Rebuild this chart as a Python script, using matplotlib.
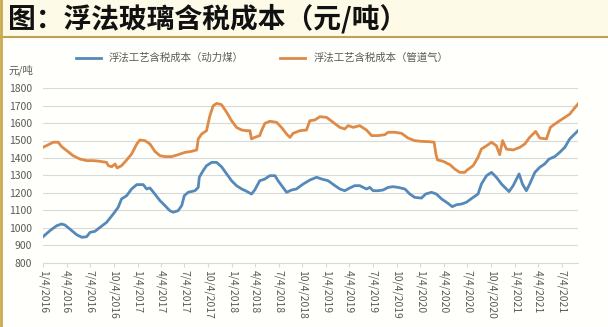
import pandas as pd
import matplotlib
matplotlib.use("Agg")
import matplotlib.pyplot as plt
from matplotlib.lines import Line2D

plt.rcParams['font.family'] = ['Noto Sans CJK SC', 'DejaVu Sans']

start = pd.Timestamp('2016-01-04')

# days after 2016-01-04
coal_days = [0, 27, 53, 72, 85, 104, 130, 150, 169, 182, 201, 221, 246, 272, 291, 304, 324, 343, 363,
             388, 401, 414, 433, 453, 472, 491, 504, 523, 537, 547, 562, 588, 601, 605, 620, 633, 653,
             672, 691, 711, 730, 749, 769, 788, 807, 820, 839, 859, 878, 898, 910, 929, 943, 962, 981,
             1007, 1033, 1059, 1078, 1104, 1130, 1149, 1168, 1188, 1207, 1226, 1252, 1265, 1278, 1297,
             1316, 1336, 1355, 1375, 1401, 1420, 1439, 1465, 1481, 1504, 1523, 1543, 1568, 1584, 1601,
             1620, 1639, 1665, 1684, 1697, 1717, 1736, 1755, 1775, 1804, 1820, 1843, 1856, 1871, 1884,
             1904, 1923, 1942, 1959, 1981, 2000, 2020, 2039, 2058, 2071]
coal_cost = [950, 985, 1013, 1023, 1017, 994, 962, 947, 950, 975, 981, 1004, 1032, 1080, 1118, 1166, 1185,
             1223, 1248, 1248, 1223, 1229, 1194, 1156, 1128, 1099, 1090, 1099, 1128, 1185, 1204, 1213,
             1232, 1290, 1328, 1356, 1375, 1375, 1350, 1309, 1270, 1242, 1223, 1210, 1194, 1218, 1270,
             1280, 1299, 1299, 1270, 1232, 1204, 1217, 1223, 1251, 1274, 1290, 1280, 1270, 1242, 1223,
             1213, 1229, 1242, 1242, 1223, 1232, 1213, 1213, 1217, 1232, 1236, 1232, 1223, 1194, 1175,
             1171, 1194, 1204, 1194, 1166, 1141, 1122, 1133, 1137, 1147, 1175, 1194, 1251, 1299, 1318,
             1290, 1251, 1208, 1242, 1309, 1251, 1213, 1251, 1318, 1347, 1366, 1394, 1408, 1432, 1461,
             1509, 1537, 1556]

gas_days = [0, 21, 40, 59, 72, 92, 117, 143, 169, 195, 221, 246, 253, 266, 279, 287, 304, 324, 343, 363,
            375, 395, 414, 433, 453, 472, 498, 523, 549, 575, 595, 601, 614, 633, 646, 659, 672, 691, 711,
            730, 749, 769, 788, 801, 807, 820, 839, 846, 859, 878, 904, 923, 943, 956, 968, 994, 1020,
            1033, 1052, 1072, 1098, 1123, 1149, 1168, 1181, 1201, 1226, 1252, 1272, 1297, 1323, 1336,
            1362, 1388, 1413, 1439, 1465, 1497, 1514, 1521, 1527, 1549, 1575, 1594, 1613, 1633, 1639,
            1665, 1684, 1697, 1717, 1736, 1755, 1768, 1779, 1794, 1820, 1846, 1865, 1884, 1907, 1923,
            1949, 1964, 1981, 2000, 2020, 2039, 2058, 2071]
gas_cost = [1461, 1476, 1490, 1490, 1465, 1442, 1413, 1394, 1385, 1385, 1381, 1375, 1356, 1350, 1366, 1343,
            1356, 1389, 1423, 1480, 1503, 1499, 1480, 1438, 1413, 1408, 1408, 1419, 1432, 1438, 1446,
            1509, 1537, 1556, 1642, 1699, 1712, 1705, 1661, 1613, 1575, 1560, 1556, 1556, 1509, 1518,
            1528, 1556, 1598, 1610, 1604, 1575, 1537, 1518, 1541, 1556, 1560, 1613, 1617, 1636, 1632,
            1604, 1575, 1566, 1585, 1575, 1585, 1560, 1528, 1528, 1533, 1547, 1547, 1541, 1514, 1499,
            1495, 1493, 1490, 1423, 1389, 1381, 1362, 1337, 1318, 1318, 1328, 1356, 1404, 1451, 1470,
            1490, 1470, 1419, 1499, 1451, 1446, 1461, 1480, 1518, 1552, 1514, 1509, 1575, 1594, 1613,
            1632, 1651, 1686, 1709]

labels = ['浮法工艺含税成本（动力煤）', '浮法工艺含税成本（管道气）']
tick_dates = pd.date_range('2016-01-01', '2021-07-01', freq='3MS') + pd.Timedelta(days=3)

coal_dates = start + pd.to_timedelta(coal_days, unit='D')
gas_dates = start + pd.to_timedelta(gas_days, unit='D')

fig = plt.figure(figsize=(6.08, 3.27), dpi=100, facecolor='#fffffb')
ax = fig.add_axes([43/608, 1 - 263/327, 535/608, 175/327])
ax.set_facecolor('#fffffb')

ax.plot(coal_dates, coal_cost, color='#5589ba', lw=2, label=labels[0])
ax.plot(gas_dates, gas_cost, color='#df8a47', lw=2, label=labels[1])

ax.set_ylim(800, 1800)
ax.set_yticks(range(800, 1801, 100))
ax.set_xlim(coal_dates[0], coal_dates[-1])
ax.set_xticks(tick_dates)
ax.set_xticklabels([f'{d.month}/{d.day}/{d.year}' for d in tick_dates], rotation=-90)
ax.grid(axis='y', color='#d9d9d9', lw=0.8)
ax.set_axisbelow(True)
for s in ['top', 'right', 'left']:
    ax.spines[s].set_visible(False)
ax.spines['bottom'].set_color('#d9d9d9')
ax.tick_params(axis='y', length=0, labelsize=7.5, labelcolor='#595959', pad=8)
ax.tick_params(axis='x', length=3, color='#d9d9d9', labelsize=7.5, labelcolor='#595959', pad=2)

fig.text(8/608, 1 - 70/327, '元/吨', fontsize=7.5, color='#595959', va='center')
fig.legend(loc='center', bbox_to_anchor=(262/608, 1 - 58/327), ncol=2, frameon=False,
           fontsize=7.5, handlelength=2.4, columnspacing=3.5, labelcolor='#595959')

# title band
fig.patches.append(plt.Rectangle((0, 1 - 37/327), 1, 37/327, transform=fig.transFigure,
                                 color='#fdfbe8', zorder=0))
fig.text(8/608, 1 - 19/327, '图：浮法玻璃含税成本（元/吨）', fontsize=20, fontweight='bold',
         va='center', color='#111111')
fig.add_artist(Line2D([0, 1], [1 - 37/327] * 2, transform=fig.transFigure, color='#bfa055', lw=1.5))
fig.add_artist(Line2D([0.002, 0.002], [0, 1], transform=fig.transFigure, color='#c9a94f', lw=2))

fig.savefig('out.png', dpi=100, facecolor=fig.get_facecolor())
